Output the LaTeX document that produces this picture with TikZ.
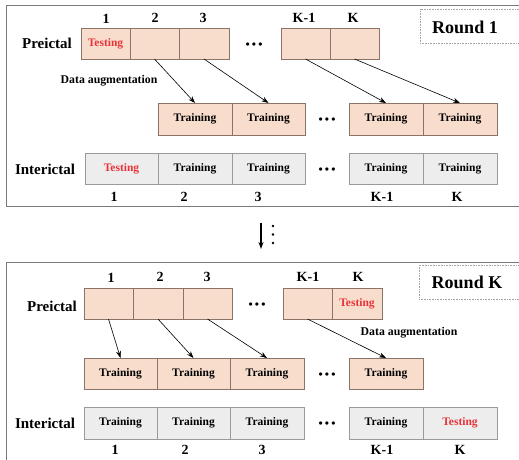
\documentclass[tikz,border=0pt]{standalone}
\usepackage{fontspec}
\setmainfont{Liberation Serif}
\usetikzlibrary{arrows.meta}
\definecolor{preFill}{HTML}{F8DDCC}
\definecolor{preDraw}{HTML}{8A7468}
\definecolor{intFill}{HTML}{EDEDED}
\definecolor{intDraw}{HTML}{9A9A9A}
\definecolor{testRed}{HTML}{E8333A}
\definecolor{frameGray}{HTML}{7A7A7A}
\newcommand{\bigdots}{\textbullet\hspace{2.2pt}\textbullet\hspace{2.2pt}\textbullet}
\begin{document}
\begin{tikzpicture}[x=1pt,y=-1pt,
  font=\bfseries,
  cell/.style={inner sep=0pt, outer sep=0pt, line width=0.7pt, font=\fontsize{11.5}{12}\selectfont\bfseries},
  prebox/.style={cell, draw=preDraw, fill=preFill, minimum height=31pt},
  intbox/.style={cell, draw=intDraw, fill=intFill, minimum height=31pt},
  rowlabel/.style={font=\fontsize{15}{16}\selectfont\bfseries},
  numlabel/.style={font=\fontsize{14}{15}\selectfont\bfseries},
  dotsnode/.style={font=\fontsize{12}{12}\selectfont\bfseries, inner sep=0pt},
  augtxt/.style={font=\fontsize{11.8}{12}\selectfont\bfseries},
  arr/.style={-{Stealth[length=7pt,width=5pt]}, line width=0.6pt},
  frame/.style={draw=frameGray, line width=0.9pt},
  roundbox/.style={draw=gray!70, densely dotted, line width=0.6pt},
  roundtxt/.style={font=\fontsize{18}{20}\selectfont\bfseries}
]
\useasboundingbox (0,0) rectangle (519,460);
\clip (0,0) rectangle (519,460);

% ---------- Round 1 ----------
\draw[frame] (6,5) rectangle (530,206);
\node[roundbox, minimum width=110pt, minimum height=34pt] (r1box) at (475,26) {};
\node[roundtxt] (r1txt) at (465,27) {Round 1};

\node[rowlabel] (pre1lab) at (47,43) {Preictal};
\node[prebox, minimum width=49pt] (a1) at (105.5,43.5) {\textcolor{testRed}{Testing}};
\node[prebox, minimum width=49pt] (a2) at (154.5,43.5) {};
\node[prebox, minimum width=50pt] (a3) at (204,43.5) {};
\node[dotsnode] (adots) at (254,46) {\bigdots};
\node[prebox, minimum width=49pt] (a4) at (305.5,43.5) {};
\node[prebox, minimum width=49pt] (a5) at (354.5,43.5) {};

\node[numlabel] (na1) at (106,19) {1};
\node[numlabel] (na2) at (155,18) {2};
\node[numlabel] (na3) at (203,18) {3};
\node[numlabel] (na4) at (304,18) {K-1};
\node[numlabel] (na5) at (353,18) {K};

\node[prebox, minimum width=74pt, minimum height=32pt] (b1) at (195,119) {Training};
\node[prebox, minimum width=73pt, minimum height=32pt] (b2) at (268.5,119) {Training};
\node[dotsnode] (bdots) at (327,121) {\bigdots};
\node[prebox, minimum width=74pt, minimum height=32pt] (b3) at (386,119) {Training};
\node[prebox, minimum width=74pt, minimum height=32pt] (b4) at (460,119) {Training};

\node[augtxt] (aug1) at (109,81) {Data augmentation};
\draw[arr] (a2.south) -- (b1.north);
\draw[arr] (a3.south) -- (b2.north);
\draw[arr] (a4.south) -- (b3.north);
\draw[arr] (a5.south) -- (b4.north);

\node[rowlabel] (int1lab) at (45,169) {Interictal};
\node[intbox, minimum width=73pt] (c1) at (121.5,168.5) {\textcolor{testRed}{Testing}};
\node[intbox, minimum width=74pt] (c2) at (195,168.5) {Training};
\node[intbox, minimum width=73pt] (c3) at (268.5,168.5) {Training};
\node[dotsnode] (cdots) at (327,170.5) {\bigdots};
\node[intbox, minimum width=74pt] (c4) at (386,168.5) {Training};
\node[intbox, minimum width=74pt] (c5) at (460,168.5) {Training};

\node[numlabel] (nc1) at (114,197) {1};
\node[numlabel] (nc2) at (184,197) {2};
\node[numlabel] (nc3) at (258,197) {3};
\node[numlabel] (nc4) at (382,197) {K-1};
\node[numlabel] (nc5) at (457,197) {K};

% ---------- transition ----------
\coordinate (mtop) at (261,223);
\coordinate (mbot) at (261,249);
\draw[-{Stealth[length=7pt,width=5pt]}, line width=1.2pt] (mtop) -- (mbot);
\fill (273,226) circle (1.3pt);
\fill (273,234.5) circle (1.3pt);
\fill (273,243) circle (1.3pt);

% ---------- Round K ----------
\draw[frame] (6,262) rectangle (530,480);
\node[roundbox, minimum width=111pt, minimum height=34pt] (rKbox) at (474.5,282) {};
\node[roundtxt] (rKtxt) at (467,282) {Round K};

\node[rowlabel] (pre2lab) at (52,306) {Preictal};
\node[prebox, minimum width=49pt] (d1) at (108.5,303.5) {};
\node[prebox, minimum width=50pt] (d2) at (158,303.5) {};
\node[prebox, minimum width=49pt] (d3) at (207.5,303.5) {};
\node[dotsnode] (ddots) at (257,306) {\bigdots};
\node[prebox, minimum width=49pt] (d4) at (307.5,303.5) {};
\node[prebox, minimum width=50pt] (d5) at (357,303.5) {\textcolor{testRed}{Testing}};

\node[numlabel] (nd1) at (111,278) {1};
\node[numlabel] (nd2) at (160,277) {2};
\node[numlabel] (nd3) at (207,277) {3};
\node[numlabel] (nd4) at (308,277) {K-1};
\node[numlabel] (nd5) at (358,277) {K};

\node[prebox, minimum width=73pt] (e1) at (120.5,373.5) {Training};
\node[prebox, minimum width=73pt] (e2) at (193.5,373.5) {Training};
\node[prebox, minimum width=74pt] (e3) at (267,373.5) {Training};
\node[dotsnode] (edots) at (327,375.5) {\bigdots};
\node[prebox, minimum width=74pt] (e4) at (386,373.5) {Training};

\node[augtxt] (aug2) at (409,333) {Data augmentation};
\draw[arr] (d1.south) -- (e1.north);
\draw[arr] (d2.south) -- (e2.north);
\draw[arr] (d3.south) -- (e3.north);
\draw[arr] (d4.south) -- (e4.north);

\node[rowlabel] (int2lab) at (45,423) {Interictal};
\node[intbox, minimum width=73pt, minimum height=32pt] (f1) at (120.5,423) {Training};
\node[intbox, minimum width=73pt, minimum height=32pt] (f2) at (193.5,423) {Training};
\node[intbox, minimum width=74pt, minimum height=32pt] (f3) at (267,423) {Training};
\node[dotsnode] (fdots) at (327,425) {\bigdots};
\node[intbox, minimum width=74pt, minimum height=32pt] (f4) at (386,423) {Training};
\node[intbox, minimum width=74pt, minimum height=32pt] (f5) at (460,423) {\textcolor{testRed}{Testing}};

\node[numlabel] (nf1) at (115,450) {1};
\node[numlabel] (nf2) at (185,450) {2};
\node[numlabel] (nf3) at (262,450) {3};
\node[numlabel] (nf4) at (382,450) {K-1};
\node[numlabel] (nf5) at (460,450) {K};
\end{tikzpicture}
\end{document}
